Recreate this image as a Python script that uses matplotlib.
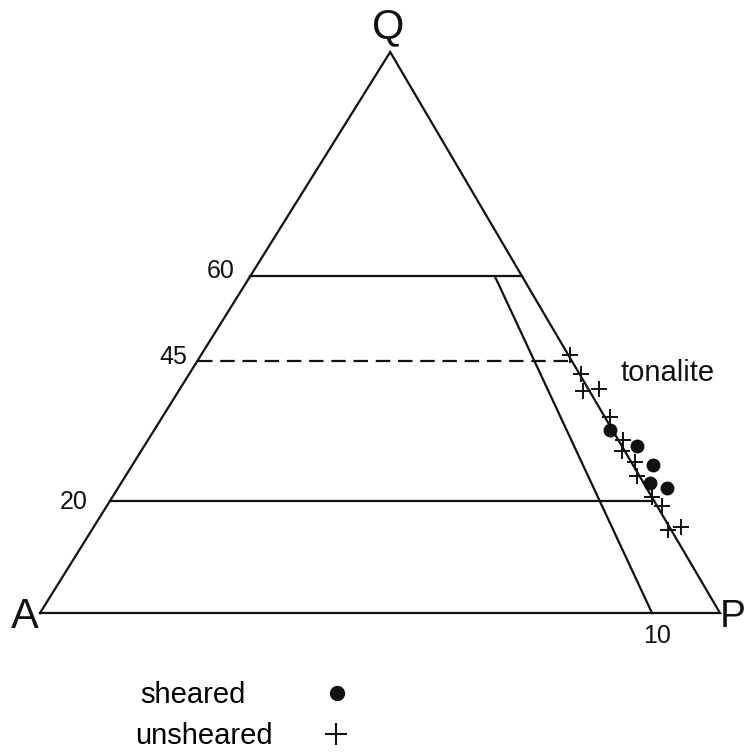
import numpy as np
import matplotlib.pyplot as plt

plt.rcParams['font.family'] = ['Liberation Sans', 'DejaVu Sans']

# modal Q and P (%) of each sample, A is the remainder
sheared_q = [32.6, 29.8, 26.4, 23.2, 22.3]
sheared_p = [67.1, 72.5, 76.5, 77.8, 80.7]
unsheared_q = [46.0, 42.6, 39.6, 40.0, 34.9, 30.8, 28.8, 27.0, 24.5, 20.7, 19.1, 14.8, 15.3]
unsheared_p = [54.3, 57.6, 59.5, 61.6, 65.8, 69.9, 70.7, 73.6, 75.2, 79.3, 81.6, 84.8, 86.4]

# field boundaries at constant Q
q_levels = [60, 45, 20]
q_labels = ['60', '45', '20']
# P/(A+P) = 90 boundary, from Q = 60 down to the A-P join
plag_q = [60, 0]
plag_p = [36, 90]

APEX = 0.515   # horizontal position of the Q corner
H = 0.825      # height of the triangle


def tern(q, p):
    q = np.asarray(q, float) / 100
    p = np.asarray(p, float) / 100
    return p + APEX * q, H * q


fig = plt.figure(figsize=(7.45, 7.53), dpi=100)
ax = fig.add_axes([0, 0, 1, 1])
ax.set_xlim(-40 / 680, 705 / 680)
ax.set_ylim(-140 / 680, 613 / 680)
ax.axis('off')

lw = 1.6
col = '#111111'

# outline A - P - Q
x, y = tern([0, 0, 100, 0], [0, 100, 0, 0])
ax.plot(x, y, color=col, lw=lw, solid_joinstyle='miter')

for q, lab in zip(q_levels, q_labels):
    x, y = tern([q, q], [0, 100 - q])
    ls = (0, (6.5, 3.5)) if q == 45 else '-'
    ax.plot(x, y, color=col, lw=lw, ls=ls)

x, y = tern(plag_q, plag_p)
ax.plot(x, y, color=col, lw=lw)

# samples
x, y = tern(sheared_q, sheared_p)
ax.plot(x, y, 'o', color=col, ms=9, label='sheared')
x, y = tern(unsheared_q, unsheared_p)
ax.plot(x, y, '+', color=col, ms=11, mew=1.4, label='unsheared')

# corner labels
ax.annotate('Q', tern(100, 0), xytext=(-2, 25), textcoords='offset pixels',
            ha='center', va='center', fontsize=30, color=col)
ax.annotate('A', tern(0, 0), xytext=(-15, -4), textcoords='offset pixels',
            ha='center', va='center', fontsize=30, color=col)
ax.annotate('P', tern(0, 100), xytext=(13, -4), textcoords='offset pixels',
            ha='center', va='center', fontsize=28, color=col)

# tick values
offsets = {'60': (-15, 5), '45': (-10, 4), '20': (-22, -1)}
for q, lab in zip(q_levels, q_labels):
    ax.annotate(lab, tern(q, 0), xytext=offsets[lab], textcoords='offset pixels',
                ha='right', va='center', fontsize=18, color=col)
ax.annotate('10', tern(0, 90), xytext=(5, -23), textcoords='offset pixels',
            ha='center', va='center', fontsize=18, color=col)

ax.annotate('tonalite', tern(45, 55), xytext=(49, -12), textcoords='offset pixels',
            ha='left', va='center', fontsize=21, color=col)

# key: text on the left, symbol on the right
h, l = ax.get_legend_handles_labels()
leg1 = ax.legend([h[0]], [l[0]], loc='center left',
                 bbox_to_anchor=(140 / 745, 1 - 695 / 753), bbox_transform=fig.transFigure,
                 frameon=False, markerfirst=False, fontsize=21, borderpad=0,
                 borderaxespad=0, handlelength=1, handletextpad=2.65)
ax.add_artist(leg1)
leg2 = ax.legend([h[1]], [l[1]], loc='center left',
                 bbox_to_anchor=(135 / 745, 1 - 736 / 753), bbox_transform=fig.transFigure,
                 frameon=False, markerfirst=False, fontsize=21, borderpad=0,
                 borderaxespad=0, handlelength=1, handletextpad=1.69)
leg2.legend_handles[0].set_markersize(16)
leg2.legend_handles[0].set_markeredgewidth(1.5)
leg1.legend_handles[0].set_markersize(10)

fig.savefig('out.png', dpi=100, facecolor='white')
